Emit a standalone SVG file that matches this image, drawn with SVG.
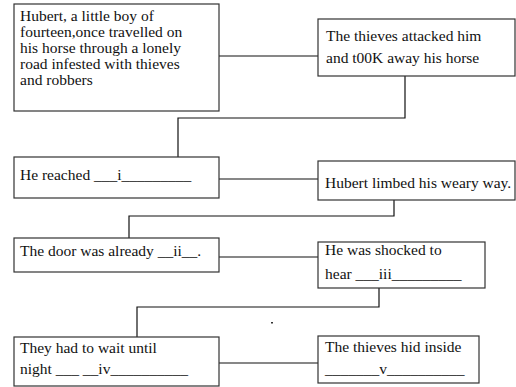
<svg xmlns="http://www.w3.org/2000/svg" width="516" height="387" viewBox="0 0 516 387">
<style>
.box{fill:#fff;stroke:#333;stroke-width:1.2}
.c{fill:none;stroke:#111;stroke-width:1.2}
</style>
<rect width="516" height="387" fill="#fff"/>
<g id="connectors">
<path class="c" d="M219,56H318"/>
<path class="c" d="M405,76V118H178V157"/>
<path class="c" d="M219,179H318"/>
<path class="c" d="M394,200V216H129V238"/>
<path class="c" d="M219,257H318"/>
<path class="c" d="M379,288V307H137V337"/>
<path class="c" d="M219,363H318"/>
</g>
<g id="n1"><rect class="box" x="14" y="4" width="205" height="107"/>
<text font-family="Liberation Serif" font-size="15.5" fill="#111" x="20" y="21">Hubert,  a little boy of</text>
<text font-family="Liberation Serif" font-size="15.5" fill="#111" x="20" y="37">fourteen,once travelled on</text>
<text font-family="Liberation Serif" font-size="15.5" fill="#111" x="20" y="53">his horse through a lonely</text>
<text font-family="Liberation Serif" font-size="15.5" fill="#111" x="20" y="69">road infested with thieves</text>
<text font-family="Liberation Serif" font-size="15.5" fill="#111" x="20" y="85">and robbers</text></g>
<g id="n2"><rect class="box" x="318" y="19" width="197" height="57"/>
<text font-family="Liberation Serif" font-size="15.5" fill="#111" x="326" y="41">The thieves attacked him</text>
<text font-family="Liberation Serif" font-size="15.5" fill="#111" x="326" y="63">and t00K away his horse</text></g>
<g id="n3"><rect class="box" x="14" y="157" width="205" height="41"/>
<text font-family="Liberation Serif" font-size="15.5" fill="#111" x="20" y="180">He reached ___i_________</text></g>
<g id="n4"><rect class="box" x="318" y="161" width="197" height="39"/>
<text font-family="Liberation Serif" font-size="15.5" fill="#111" x="325" y="188">Hubert limbed his weary way.</text></g>
<g id="n5"><rect class="box" x="14" y="238" width="205" height="34"/>
<text font-family="Liberation Serif" font-size="15.5" fill="#111" x="20" y="256">The door was already __ii__.</text></g>
<g id="n6"><rect class="box" x="318" y="242" width="167" height="46"/>
<text font-family="Liberation Serif" font-size="15.5" fill="#111" x="325" y="255">He was shocked to</text>
<text font-family="Liberation Serif" font-size="15.5" fill="#111" x="325" y="279">hear ___iii_________</text></g>
<g id="n7"><rect class="box" x="14" y="337" width="205" height="49"/>
<text font-family="Liberation Serif" font-size="15.5" fill="#111" x="20" y="353">They had to wait until</text>
<text font-family="Liberation Serif" font-size="15.5" fill="#111" x="20" y="374">night ___ __iv__________</text></g>
<g id="n8"><rect class="box" x="318" y="336" width="161" height="47"/>
<text font-family="Liberation Serif" font-size="15.5" fill="#111" x="325" y="352">The thieves hid inside</text>
<text font-family="Liberation Serif" font-size="15.5" fill="#111" x="325" y="374">_______v__________</text></g>
<rect x="271" y="322" width="2" height="1.5" fill="#333"/>
</svg>
